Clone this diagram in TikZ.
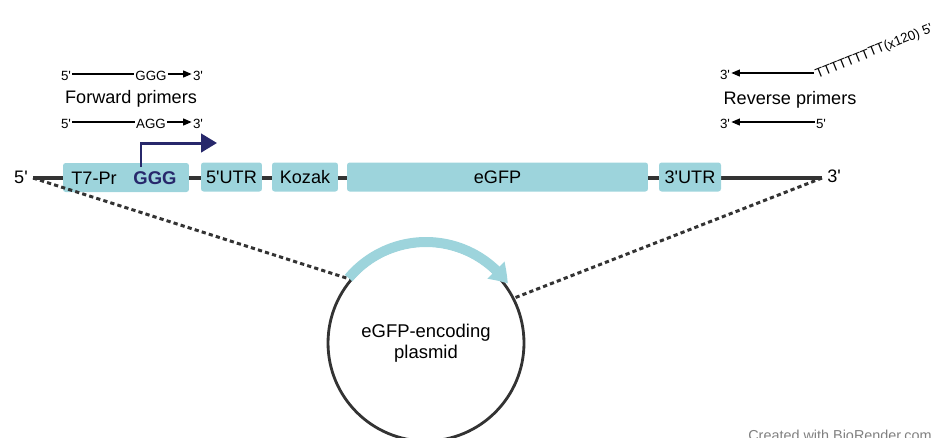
\documentclass[tikz,border=0pt]{standalone}
\usepackage{fontspec}
\setmainfont{Liberation Sans}
\usetikzlibrary{arrows.meta,bending}
\definecolor{boxblue}{HTML}{9DD4DC}
\definecolor{navy}{HTML}{27286B}
\definecolor{dna}{HTML}{333333}
\newcommand{\pr}{\textquotesingle}

\begin{document}
\begin{tikzpicture}[x=0.02cm, y=-0.02cm,
		gene/.style={fill=boxblue, rounded corners=1.5pt, minimum height=0.58cm, inner sep=0pt, font=\fontsize{10.3}{12}\selectfont},
		lbl/.style={font=\fontsize{10.3}{12}\selectfont, inner sep=1pt},
		sml/.style={font=\fontsize{7.6}{9}\selectfont, inner sep=0.6pt, text height=0.72em, text depth=0pt},
		primer/.style={line width=0.6pt, -{Triangle[length=0.17cm, width=0.14cm]}},
		strand/.style={dna, line width=2pt},
		link/.style={dna, line width=1.7pt, dash pattern=on 2.4pt off 1.8pt}]
		\useasboundingbox (0,0) rectangle (949,437);
		\clip (0,0) rectangle (949,437);
		
		% forward primers
		\node (f1a) [sml] at (66,74) {5\pr};
		\node (f1b) [sml] at (151,74) {GGG};
		\node (f1c) [sml] at (198,74) {3\pr};
		\draw[line width=0.6pt] (f1a) -- (f1b);
		\draw[primer] (f1b) -- (f1c);
		\node (fwd) [lbl] at (131,99) {Forward primers};
		\node (f2a) [sml] at (66,122) {5\pr};
		\node (f2b) [sml] at (151,122) {AGG};
		\node (f2c) [sml] at (198,122) {3\pr};
		\draw[line width=0.6pt] (f2a) -- (f2b);
		\draw[primer] (f2b) -- (f2c);
		
		% reverse primers
		\node (r1a) [sml] at (725,73) {3\pr};
		\node (r1b) [sml, rotate=22, anchor=west] at (814,73) {TTTTTTTTT(x120) 5\pr};
		\draw[primer] (r1b.west) -- (r1a);
		\node (rev) [lbl] at (790,100) {Reverse primers};
		\node (r2a) [sml] at (725,122) {3\pr};
		\node (r2b) [sml] at (821,122) {5\pr};
		\draw[primer] (r2b) -- (r2a);
		
		% template
		\coordinate (s5) at (33,178);
		\coordinate (s3) at (822,178);
		\draw[strand] (s5) -- (s3);
		\node (p5) [lbl] at (21,177) {5\pr};
		\node (p3) [lbl] at (834,176) {3\pr};
		
		\node (t7) [gene, minimum width=2.52cm] at (126,177.5) {};
		\node (t7pr) [lbl] at (94,178) {T7-Pr};
		\node (ggg) [lbl, text=navy, font=\fontsize{10.5}{12}\selectfont\bfseries] at (155,178) {GGG};
		\node (utr5) [gene, minimum width=1.22cm] at (231.5,177) {5\pr UTR};
		\node (koz) [gene, minimum width=1.32cm] at (305,177) {Kozak};
		\node (egfp) [gene, minimum width=6.02cm] at (497.5,177) {eGFP};
		\node (utr3) [gene, minimum width=1.24cm] at (690,177) {3\pr UTR};
		
		\coordinate (tss) at (141,167);
		\coordinate (tsstip) at (217,143);
		\draw[navy, line width=1.7pt, -{Triangle[length=0.32cm, width=0.37cm]}] (tss) |- (tsstip);
		
		% plasmid
		\node (pl) [circle, draw=dna, line width=1.6pt, minimum size=3.92cm, align=center, font=\fontsize{10.5}{12}\selectfont] at (426,343) {eGFP-encoding\\plasmid};
		\draw[link] (s5) -- (pl.140);
		\draw[link] (s3) -- (pl.27);
		\draw[boxblue, line width=5.7pt, -{Triangle[length=0.36cm, width=0.46cm, bend]}] (pl.center) ++(-140:101) arc (-140:-36:101);
		
		\node (wm) [font=\fontsize{8.2}{10}\selectfont, text=gray, anchor=base] at (840,440) {Created with BioRender.com};
	\end{tikzpicture}
\end{document}
